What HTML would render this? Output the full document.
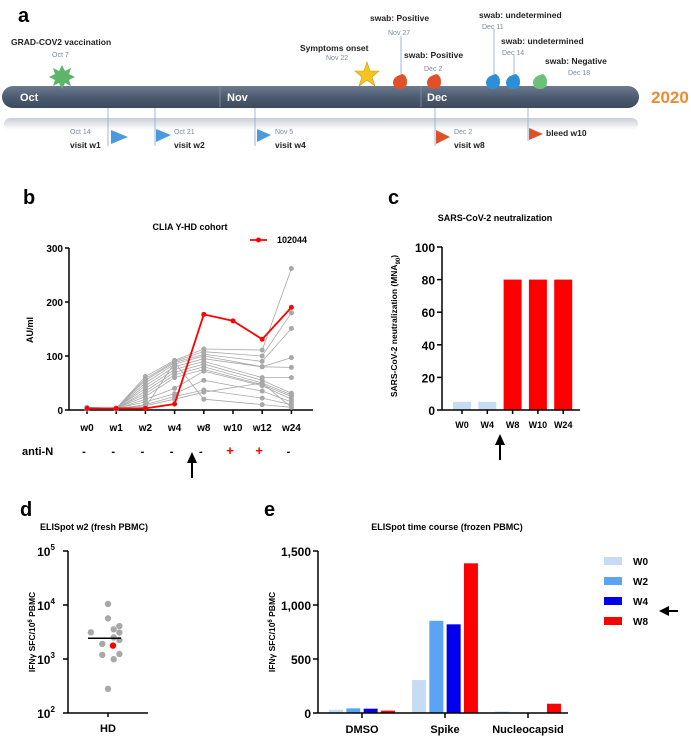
<!DOCTYPE html>
<html><head><meta charset="utf-8"><style>
body{margin:0;background:#fff}
svg{display:block;font-family:"Liberation Sans",Arial,sans-serif}
.b{font-weight:bold}
</style></head><body>
<svg id="s" width="691" height="736" viewBox="0 0 691 736">
<defs>
<linearGradient id="tg" x1="0" y1="0" x2="0" y2="1"><stop offset="0" stop-color="#6b7a8e"/><stop offset="0.5" stop-color="#4d5c70"/><stop offset="1" stop-color="#3c4a5c"/></linearGradient>
<linearGradient id="rg" x1="0" y1="0" x2="0" y2="1"><stop offset="0" stop-color="#c9ced6"/><stop offset="1" stop-color="#fff"/></linearGradient>
</defs>
<g>
<text x="18" y="22" font-size="20" class="b">a</text>
<rect x="4" y="118" width="634" height="12" rx="6" fill="url(#rg)"/>
<rect x="2" y="86" width="637" height="22" rx="11" fill="url(#tg)"/>
<line x1="220" y1="87" x2="220" y2="107" stroke="#8894a4" stroke-width="0.8"/>
<line x1="421" y1="87" x2="421" y2="107" stroke="#8894a4" stroke-width="0.8"/>
<g fill="#fff" font-size="11" class="b">
<text x="20" y="101">Oct</text>
<text x="227" y="101">Nov</text>
<text x="427" y="101">Dec</text></g>
<text x="651" y="103" font-size="17" class="b" fill="#f08a30">2020</text>
<g stroke="#8fa9c8" stroke-width="0.8">
<line x1="401" y1="36" x2="401" y2="76"/><line x1="494" y1="29" x2="494" y2="76"/><line x1="514" y1="55" x2="514" y2="76"/>
<line x1="108" y1="108" x2="108" y2="146"/><line x1="155" y1="108" x2="155" y2="146"/><line x1="255" y1="108" x2="255" y2="146"/><line x1="435" y1="108" x2="435" y2="146"/><line x1="528" y1="108" x2="528" y2="141"/></g>
<g font-size="8.5" class="b" fill="#222">
<text x="11" y="45">GRAD-COV2 vaccination</text>
<text x="300" y="51">Symptoms onset</text>
<text x="370" y="21">swab: Positive</text>
<text x="404" y="58">swab: Positive</text>
<text x="479" y="18">swab: undetermined</text>
<text x="501" y="44">swab: undetermined</text>
<text x="545" y="64">swab: Negative</text>
<text x="70" y="148">visit w1</text><text x="174" y="148">visit w2</text><text x="275" y="148">visit w4</text><text x="454" y="148">visit w8</text><text x="546" y="136">bleed w10</text></g>
<g font-size="7" fill="#7a8aa0">
<text x="52" y="57">Oct 7</text><text x="326" y="60">Nov 22</text><text x="388" y="35">Nov 27</text><text x="424" y="71">Dec 2</text>
<text x="482" y="29">Dec 11</text><text x="502" y="55">Dec 14</text><text x="568" y="75">Dec 18</text>
<text x="70" y="134">Oct 14</text><text x="174" y="134">Oct 21</text><text x="275" y="134">Nov 5</text><text x="454" y="134">Dec 2</text></g>
<polygon points="62,65 65,71 71,68 69,74 75,77 69,80 71,86 65,83 62,89 59,83 53,86 55,80 49,77 55,74 53,68 59,71" fill="#5cb56a"/>
<polygon points="367,62 370,71 379,71 372,77 375,86 367,80 359,86 362,77 355,71 364,71" fill="#f7c51e" stroke="#c99a10" stroke-width="0.6"/>
<g>
<path d="M400,74 Q407,74 407,82 Q407,89 400,89 Q393,89 393,82 Q394,75 405,74Z" fill="#e0502a"/>
<path d="M434,74 Q441,74 441,82 Q441,89 434,89 Q427,89 427,82 Q428,75 439,74Z" fill="#e0502a"/>
<path d="M493,74 Q500,74 500,82 Q500,89 493,89 Q486,89 486,82 Q487,75 498,74Z" fill="#2d8fd8"/>
<path d="M513,74 Q520,74 520,82 Q520,89 513,89 Q506,89 506,82 Q507,75 518,74Z" fill="#2d8fd8"/>
<path d="M540,74 Q547,74 547,82 Q547,89 540,89 Q533,89 533,82 Q534,75 545,74Z" fill="#6cc07a"/></g>
<g>
<polygon points="111,130 128,137 111,144" fill="#4a9ae0"/><polygon points="156,129 171,135 156,142" fill="#4a9ae0"/>
<polygon points="257,129 271,135 257,142" fill="#4a9ae0"/><polygon points="436,130 450,137 436,144" fill="#e0502a"/>
<polygon points="529,128 543,134 529,140" fill="#e0502a"/></g>
</g>
<text x="23" y="204" font-size="20" class="b">b</text>
<text x="388" y="204" font-size="20" class="b">c</text>
<text x="20" y="516" font-size="20" class="b">d</text>
<text x="264" y="516" font-size="20" class="b">e</text>
<g id="gb"></g><g id="gc"></g><g id="gd"></g><g id="ge"></g>
</svg>
<script>
const NS="http://www.w3.org/2000/svg";
function mk(p,t,a,txt){const e=document.createElementNS(NS,t);for(const k in a)e.setAttribute(k,a[k]);if(txt!==undefined)e.textContent=txt;p.appendChild(e);return e;}

const bWeeks=["w0","w1","w2","w4","w8","w10","w12","w24"];
const bRed=[3,3,3,11,177,165,131,190];
const bGray1=[5,3,62,92,113,null,111,262];
const bGray2=[4,3,58,90,108,null,100,180];
const bGray3=[3,3,55,88,103,null,90,151];
const bGray4=[3,3,50,85,100,null,80,97];
const bGray5=[2,3,45,80,95,null,80,79];
const bGray6=[3,3,40,75,90,null,60,60];
const bGray7=[3,2,35,70,85,null,55,31];
const bGray8=[2,3,30,65,80,null,50,28];
const bGray9=[3,3,25,60,75,null,47,25];
const bGray10=[2,2,20,40,72,null,45,20];
const bGray11=[3,3,15,30,55,null,35,15];
const bGray12=[2,2,10,25,37,null,22,10];
const bGray13=[3,3,8,20,33,null,50,5];
const bGray14=[2,2,5,88,20,null,10,5];
const bGrays=[bGray1,bGray2,bGray3,bGray4,bGray5,bGray6,bGray7,bGray8,bGray9,bGray10,bGray11,bGray12,bGray13,bGray14];
const bTicks=[0,100,200,300];
const antiN=["-","-","-","-","-","+","+","-"];

const cCats=["W0","W4","W8","W10","W24"];
const cVals=[5,5,80,80,80];
const cTicks=[0,20,40,60,80,100];

const dVals=[3120,10450,5660,3550,4080,2510,3090,2250,1900,1190,1240,990,280];
const dJitter=[-3,0,0,1,2,1,2,2,-1,-1,2,1,0];
const dRed=[1770];
const dMean=[2420];

const eCats=["DMSO","Spike","Nucleocapsid"];
const eSeries=["W0","W2","W4","W8"];
const eW0=[30,305,15];
const eW2=[43,854,0];
const eW4=[40,821,0];
const eW8=[22,1386,86];
const eTicks=[0,500,1000,1500];
const eTickLabels=["0","500","1,000","1,500"];

(function(){
const g=document.getElementById('gb');
const X0=69,X1=313,Y0=410,Y1=248;
const xs=i=>87+i*29.2;
const ys=v=>Y0-(v/300)*(Y0-Y1);
mk(g,'text',{x:190,y:230,'font-size':9,'font-weight':'bold','text-anchor':'middle'},'CLIA Y-HD cohort');
mk(g,'line',{x1:X0,y1:Y1,x2:X0,y2:Y0,stroke:'#000','stroke-width':1.5});
mk(g,'line',{x1:X0,y1:Y0,x2:X1,y2:Y0,stroke:'#000','stroke-width':1.5});
bTicks.forEach(t=>{mk(g,'line',{x1:X0-4,y1:ys(t),x2:X0,y2:ys(t),stroke:'#000','stroke-width':1.5});
 const tl=mk(g,'text',{x:X0-6,y:ys(t)+4,'font-size':10,'font-weight':'bold','text-anchor':'end'},t);
 
 });
bWeeks.forEach((w,i)=>{mk(g,'line',{x1:xs(i),y1:Y0,x2:xs(i),y2:Y0+4,stroke:'#000','stroke-width':1.5});
 const tl=mk(g,'text',{x:xs(i),y:Y0+21,'font-size':10,'font-weight':'bold','text-anchor':'middle'},w);
 
 
 const a=mk(g,'text',{x:xs(i)-3,y:455,'font-size':antiN[i]=='+'?13:11,'font-weight':'bold','text-anchor':'middle',fill:antiN[i]=='+'?'#f00':'#000'},antiN[i]);
 
 });
mk(g,'text',{x:22,y:455,'font-size':11,'font-weight':'bold'},'anti-N');
const yt=mk(g,'text',{x:33,y:330,'font-size':9,'font-weight':'bold','text-anchor':'middle',transform:'rotate(-90 33 330)'},'AU/ml');


function series(vals,col,w,r){
 let d='';vals.forEach((v,i)=>{if(v===null)return;d+=(d?'L':'M')+xs(i)+','+ys(v);});
 const p=mk(g,'path',{d:d,fill:'none',stroke:col,'stroke-width':w});
 
 
 vals.forEach((v,i)=>{if(v===null)return;const c=mk(g,'circle',{cx:xs(i),cy:ys(v),r:r,fill:col});
 
 });
}
bGrays.forEach(s=>series(s,'#a8a8a8',0.8,2.5));
series(bRed,'#f00',1.8,2.5);
mk(g,'line',{x1:250,y1:240,x2:267,y2:240,stroke:'#f00','stroke-width':1.8});
mk(g,'circle',{cx:258.5,cy:240,r:2.5,fill:'#f00'});
const lg=mk(g,'text',{x:277,y:243,'font-size':9,'font-weight':'bold'},'102044');


mk(g,'line',{x1:192,y1:478,x2:192,y2:462,stroke:'#000','stroke-width':2});
mk(g,'polygon',{points:'187,463 197,463 192,452',fill:'#000'});
})();

(function(){
const g=document.getElementById('gc');
const X0=442,X1=580,Y0=410,Y1=247;
const xs=i=>462+i*25.3;
const ys=v=>Y0-(v/100)*(Y0-Y1);
mk(g,'text',{x:495,y:221,'font-size':9,'font-weight':'bold','text-anchor':'middle'},'SARS-CoV-2 neutralization');
cVals.forEach((v,i)=>{const r=mk(g,'rect',{x:xs(i)-9,y:ys(v),width:18,height:Y0-ys(v),fill:i<2?'#c6dcf5':'#ff0000'});
 
 
 const t=mk(g,'text',{x:xs(i),y:Y0+18,'font-size':9,'font-weight':'bold','text-anchor':'middle'},cCats[i]);
 
 
 mk(g,'line',{x1:xs(i),y1:Y0,x2:xs(i),y2:Y0+4,stroke:'#000','stroke-width':1.5});});
mk(g,'line',{x1:X0,y1:Y1,x2:X0,y2:Y0,stroke:'#000','stroke-width':1.5});
mk(g,'line',{x1:X0,y1:Y0,x2:X1,y2:Y0,stroke:'#000','stroke-width':1.5});
cTicks.forEach(t=>{mk(g,'line',{x1:X0-5,y1:ys(t),x2:X0,y2:ys(t),stroke:'#000','stroke-width':1.5});
 const tl=mk(g,'text',{x:X0-7,y:ys(t)+5,'font-size':12,'font-weight':'bold','text-anchor':'end'},t);
 
 });
const yt=mk(g,'text',{x:397,y:326,'font-size':8.5,'font-weight':'bold','text-anchor':'middle',transform:'rotate(-90 397 326)'},'SARS-CoV-2 neutralization (MNA');
mk(yt,'tspan',{'font-size':6,dy:3},'90');mk(yt,'tspan',{dy:-3},')');


mk(g,'line',{x1:500,y1:460,x2:500,y2:444,stroke:'#000','stroke-width':2});
mk(g,'polygon',{points:'495,445 505,445 500,434',fill:'#000'});
})();

(function(){
const g=document.getElementById('gd');
const X0=68,X1=148,Ytop=551,Ybot=713;
const ys=v=>Ybot-(Math.log10(v)-2)/3*(Ybot-Ytop);
const cx=108;
mk(g,'text',{x:40,y:530,'font-size':9,'font-weight':'bold'},'ELISpot w2 (fresh PBMC)');
mk(g,'line',{x1:X0,y1:Ytop,x2:X0,y2:Ybot,stroke:'#000','stroke-width':1.5});
mk(g,'line',{x1:X0,y1:Ybot,x2:X1,y2:Ybot,stroke:'#000','stroke-width':1.5});
[2,3,4,5].forEach(e=>{const y=ys(Math.pow(10,e));
 mk(g,'line',{x1:X0-5,y1:y,x2:X0,y2:y,stroke:'#000','stroke-width':1.5});
 const t=mk(g,'text',{x:X0-22,y:y+5,'font-size':12,'font-weight':'bold','text-anchor':'middle'},'10');
 mk(t,'tspan',{'font-size':8,dy:-6},e);
 
 });
mk(g,'line',{x1:cx,y1:Ybot,x2:cx,y2:Ybot+4,stroke:'#000','stroke-width':1.5});
mk(g,'text',{x:cx,y:732,'font-size':11,'font-weight':'bold','text-anchor':'middle'},'HD');
const yt=mk(g,'text',{x:35,y:632,'font-size':8.5,'font-weight':'bold','text-anchor':'middle',transform:'rotate(-90 35 632)'},'IFNγ SFC/10');
mk(yt,'tspan',{'font-size':6,dy:-3},'6');mk(yt,'tspan',{dy:3},' PBMC');


dVals.forEach((v,i)=>{const c=mk(g,'circle',{cx:cx+dJitter[i]*5.7,cy:ys(v),r:3.2,fill:'#a8a8a8'});
 
 });
dRed.forEach(v=>{const c=mk(g,'circle',{cx:cx+5,cy:ys(v),r:3.2,fill:'#f00'});
 
 });
dMean.forEach(v=>{const l=mk(g,'line',{x1:88,y1:ys(v),x2:121,y2:ys(v),stroke:'#000','stroke-width':1.5});
 
 });
})();

(function(){
const g=document.getElementById('ge');
const X0=318,X1=568,Y0=713,Y1=551;
const gx=i=>362+i*83;
const ys=v=>Y0-(v/1500)*(Y0-Y1);
const cols=['#c6dcf5','#5aa3f5','#0000ee','#ff0000'];
const ser=[eW0,eW2,eW4,eW8];
mk(g,'text',{x:447,y:530,'font-size':9,'font-weight':'bold','text-anchor':'middle'},'ELISpot time course (frozen PBMC)');
ser.forEach((s,si)=>s.forEach((v,ci)=>{const x=gx(ci)+(si-1.5)*17.3;
 const r=mk(g,'rect',{x:x-7,y:ys(v),width:14,height:Y0-ys(v),fill:cols[si]});
 
 }));
mk(g,'line',{x1:X0,y1:Y1,x2:X0,y2:Y0,stroke:'#000','stroke-width':1.5});
mk(g,'line',{x1:X0,y1:Y0,x2:X1,y2:Y0,stroke:'#000','stroke-width':1.5});
eTicks.forEach((t,i)=>{mk(g,'line',{x1:X0-5,y1:ys(t),x2:X0,y2:ys(t),stroke:'#000','stroke-width':1.5});
 const tl=mk(g,'text',{x:X0-7,y:ys(t)+5,'font-size':12,'font-weight':'bold','text-anchor':'end'},eTickLabels[i]);
 
 });
eCats.forEach((c,i)=>{mk(g,'line',{x1:gx(i),y1:Y0,x2:gx(i),y2:Y0+5,stroke:'#000','stroke-width':1.5});
 const t=mk(g,'text',{x:gx(i),y:733,'font-size':11,'font-weight':'bold','text-anchor':'middle'},c);
 
 });
const yt=mk(g,'text',{x:275,y:632,'font-size':8.5,'font-weight':'bold','text-anchor':'middle',transform:'rotate(-90 275 632)'},'IFNγ SFC/10');
mk(yt,'tspan',{'font-size':6,dy:-3},'6');mk(yt,'tspan',{dy:3},' PBMC');


eSeries.forEach((s,i)=>{const y=561+i*20;
 const r=mk(g,'rect',{x:604,y:y-4,width:18,height:8,fill:cols[i]});
 
 
 const t=mk(g,'text',{x:633,y:y+4,'font-size':10,'font-weight':'bold'},s);
 
 });
mk(g,'line',{x1:678,y1:611,x2:668,y2:611,stroke:'#000','stroke-width':2});
mk(g,'polygon',{points:'669,606 669,616 659,611',fill:'#000'});
})();
</script>
</body></html>
